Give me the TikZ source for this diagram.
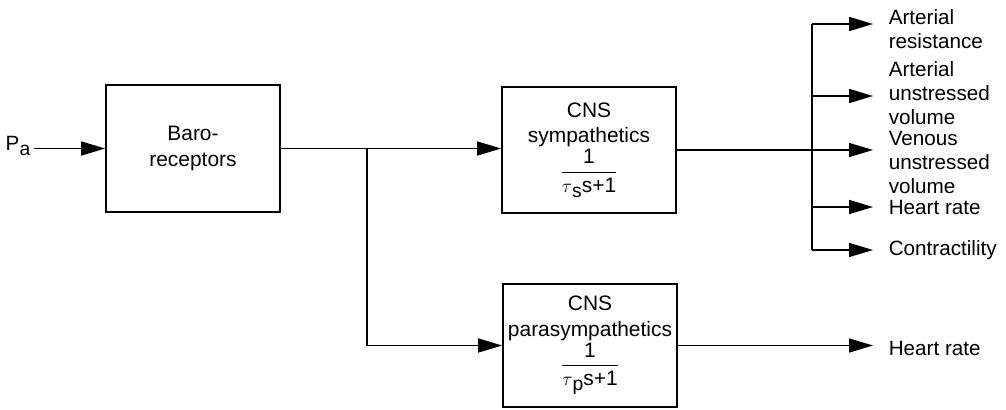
\documentclass[tikz,border=0pt]{standalone}
\usepackage{fontspec}
\usepackage{amsmath}
\setmainfont{Liberation Sans}
\usetikzlibrary{arrows.meta}
\newcommand{\lowsub}[1]{\raisebox{-3.8pt}{\fontsize{14.5}{14.5}\selectfont #1}}
\newcommand{\tf}[1]{$\dfrac{\text{1}\rule[-3pt]{0pt}{1pt}}{\text{\rule{0pt}{13pt}$\tau$\lowsub{#1}s+1}}$}
\begin{document}
\begin{tikzpicture}[x=0.75pt,y=-0.75pt,
  font=\fontsize{15.5}{18}\selectfont,
  line width=1.15pt,
  arr/.style={-{Triangle[length=18pt,width=10.5pt]}},
  blockbox/.style={draw,line width=1.3pt,minimum width=130.5pt,align=center,inner sep=2pt,
    font=\fontsize{15.7}{19}\selectfont},
  outlabel/.style={anchor=west,align=left,inner xsep=11.25pt,inner ysep=0pt}]
\useasboundingbox (0,0) rectangle (1006,410);
% blocks
\node[blockbox,minimum height=95.25pt] (baro) at (193,148.5) {Baro-\\receptors};
\node[blockbox,minimum height=94.5pt] (sym) at (589,150)
  {CNS\\sympathetics\\[1pt]\tf{s}};
\node[blockbox,minimum height=92.25pt] (para) at (590,345.5)
  {CNS\\parasympathetics\\[1pt]\tf{p}};
% input
\node[inner sep=0pt] (pa) at (18,146) {P\lowsub{a}};
\draw[arr] (baro.west -| pa.east) ++(3,0) coordinate (pain) -- (pain -| baro.west);
% baro to sym and para
\coordinate (j1) at (367,148.5);
\draw[arr] (baro.east) -- (baro.east -| sym.west);
\draw[arr] (j1) |- (para.west);
% bus
\coordinate (b1) at (812,24);
\coordinate (b2) at (812,96);
\coordinate (b3) at (812,150);
\coordinate (b4) at (812,207);
\coordinate (b5) at (812,250);
\draw (sym.east) -- (b3);
\draw (b1) -- (b5);
% labels
\node[outlabel] (l1) at (873,29) {Arterial\\resistance};
\node[outlabel] (l2) at (873,93) {Arterial\\unstressed\\volume};
\node[outlabel] (l3) at (873,162) {Venous\\unstressed\\volume};
\node[outlabel] (l4) at (873,207) {Heart rate};
\node[outlabel] (l5) at (873,250) {Contractility};
\node[outlabel] (l6) at (873,348) {Heart rate};
\draw[arr] (b1) -- (b1 -| l1.west);
\draw[arr] (b2) -- (b2 -| l2.west);
\draw[arr] (b3) -- (b3 -| l3.west);
\draw[arr] (b4) -- (b4 -| l4.west);
\draw[arr] (b5) -- (b5 -| l5.west);
\draw[arr] (para.east) -- (para.east -| l6.west);
\end{tikzpicture}
\end{document}
